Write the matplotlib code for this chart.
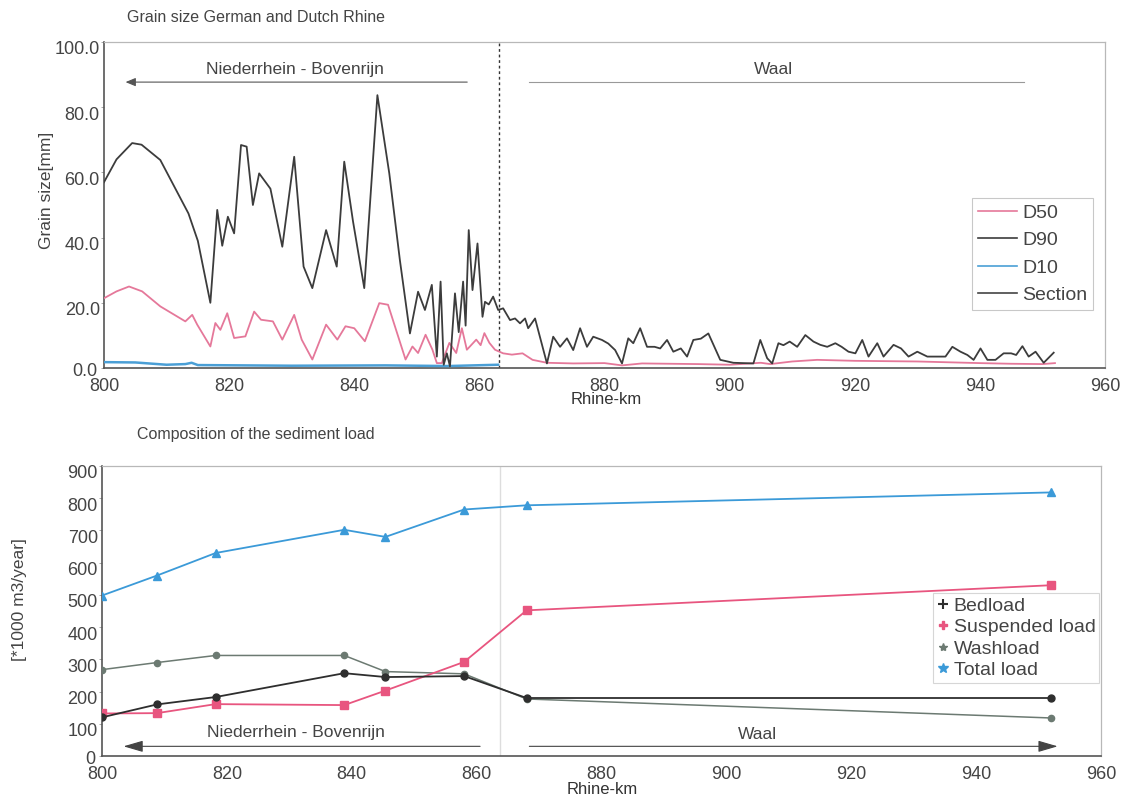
import matplotlib
matplotlib.use("Agg")
import matplotlib.pyplot as plt
from matplotlib.lines import Line2D
from matplotlib.transforms import ScaledTranslation

plt.rcParams['font.family'] = ['Liberation Sans', 'DejaVu Sans']

# ---------------- data: top chart (grain size) ----------------
d90_km = [800, 802, 804.5, 806, 809, 813.5, 815, 817, 818.1, 818.9, 819.8, 820.8, 821.9, 822.8,
          823.8, 824.8, 826.6, 828.5, 830.4, 831.9, 833.3, 835.5, 837.2, 838.4, 839.8, 841.6,
          843.7, 845.6, 847.3, 848.9, 850.2, 851.3, 852.4, 853.2, 853.8, 854.3, 854.8, 855.3,
          856.1, 856.7, 857.4, 857.8, 858.3, 858.9, 859.7, 860.5, 860.9, 861.5, 862.2, 863,
          863.8, 864.9, 865.7, 866.5, 867.3, 867.8, 868.9, 870.8, 871.8, 872.9, 874, 875,
          876.1, 877.2, 878.2, 879.6, 880.6, 881.7, 882.8, 883.8, 884.6, 885.7, 886.8, 888,
          888.9, 890, 891, 892.2, 893.2, 894.2, 895.4, 896.6, 898.5, 900.6, 903.8, 904.9,
          906, 906.8, 907.8, 908.6, 909.6, 910.8, 912.1, 913.4, 914.5, 915.6, 916.9, 917.9,
          919, 920.1, 921.2, 922.2, 923.6, 924.6, 926.2, 927.4, 928.6, 930, 931.6, 933,
          934.5, 935.6, 936.9, 938, 939, 940.1, 941.2, 942.5, 943.8, 945, 945.8, 946.8,
          947.8, 948.9, 950.2, 951.8]
d90_val = [57, 64, 69, 68.5, 63.8, 47.4, 39, 20, 48.5, 37.5, 46.4, 41.3, 68.4, 67.9,
           50, 59.7, 55, 37.2, 64.8, 31.1, 24.5, 42.3, 31.1, 63.3, 45, 24.5,
           83.7, 59.7, 33, 10.6, 23.4, 17.8, 25.5, 3.5, 26.5, 1, 4.5, 0.5,
           22.9, 11, 26.5, 13, 42.3, 23.9, 38.2, 15.7, 20.3, 19.5, 21.9, 17.8,
           18.3, 14.7, 15.2, 13.7, 15.2, 12.2, 15.2, 1.4, 9.6, 6.5, 9.1, 5.5,
           12.2, 6.5, 9.6, 8.6, 7.5, 5.5, 1.4, 9.1, 7.6, 12.2, 6.5, 6.5,
           6, 8.6, 5, 6, 3.5, 8.6, 9, 10.6, 2.5, 1.6, 1.4, 8.6,
           3, 1.4, 7.6, 7, 8.1, 6.5, 10.1, 8.1, 7.1, 6.5, 7.6, 6.5,
           5, 4.5, 8.6, 3.5, 7.6, 3.5, 7.1, 6, 3.5, 5, 3.5, 3.5,
           3.5, 6.5, 5, 4, 2.5, 6, 2.5, 2.5, 4.5, 4.5, 4, 6.7,
           3.5, 5, 1.6, 4.7]

d50_km = [800, 802, 804, 806.1, 809, 813, 814.1, 814.9, 817, 817.8, 818.6, 819.7, 820.8,
          822.6, 824, 825.1, 827, 828.5, 830.4, 831.6, 833.3, 835.5, 837.3, 838.6, 840,
          841.7, 844, 845.4, 848.2, 849.3, 850.2, 851.4, 852.5, 853.2, 854, 855.2, 856.3,
          857.2, 858, 859.5, 860.2, 860.8, 861.6, 862.5, 863.8, 865.2, 866.9, 868.5, 870.8,
          875, 880, 882.8, 886, 895, 900, 905, 906.5, 910, 914, 920, 930, 940, 945, 950, 952]
d50_val = [21.4, 23.5, 25, 23.5, 18.9, 14.3, 16.3, 13.3, 6.6, 13.8, 11.7, 16.8, 9.2,
           9.7, 17.3, 14.8, 14.3, 8.7, 16.3, 8.7, 2.6, 13.3, 8.7, 12.8, 12.2,
           8.2, 19.9, 19.4, 2.6, 6.6, 4.6, 10.2, 5.6, 1.5, 1.5, 7.7, 4.6,
           12.2, 5.6, 8.7, 7, 10.7, 7.7, 5.6, 4.5, 4.1, 4.5, 2.5, 1.6,
           1.4, 1.5, 0.8, 1.4, 1.2, 1.0, 1.6, 1.2, 2.0, 2.5, 2.2, 2.0, 1.5, 1.3, 1.2, 1.5]

d10_km = [800, 805, 810, 813, 814, 815, 830, 845, 855, 863]
d10_val = [1.8, 1.7, 1.0, 1.2, 1.6, 0.9, 0.7, 0.8, 0.6, 1.0]

section_km = 863.1

# ---------------- data: bottom chart (sediment load) ----------------
load_km = [800, 808.8, 818.2, 838.8, 845.4, 858, 868, 952]
bedload = [120, 160, 183, 257, 245, 248, 180, 180]
suspended = [132, 133, 161, 158, 203, 292, 452, 530]
washload = [268, 290, 312, 312, 262, 255, 177, 118]
total_load = [498, 560, 630, 702, 680, 765, 778, 818]
load_divider_km = 863.7

top_yticks = [0, 20, 40, 60, 80, 100]
bot_yticks = [0, 100, 200, 300, 400, 500, 600, 700, 800, 900]
xticks = [800, 820, 840, 860, 880, 900, 920, 940, 960]

C_D50 = '#e5789a'
C_D90 = '#3c3c3c'
C_D10 = '#4a9fd6'
C_BED = '#2e2e2e'
C_SUS = '#e8557f'
C_WASH = '#6c7a72'
C_TOT = '#3b9ad8'
TXT = '#444444'

fig = plt.figure(figsize=(11.3, 7.98), dpi=100)
ax1 = fig.add_axes([104/1130, 1 - 368/798, (1105-104)/1130, (368-42)/798])
ax2 = fig.add_axes([102/1130, 1 - 756/798, (1101-102)/1130, (756-466)/798])


def style_axes(ax, yticks, fmt):
    ax.set_xlim(800, 960)
    ax.set_xticks(xticks)
    ax.set_yticks(yticks)
    ax.set_yticklabels([fmt.format(v) for v in yticks])
    ax.tick_params(axis='x', length=0, pad=7, labelsize=13, labelcolor=TXT)
    ax.tick_params(axis='y', length=2, width=0.6, color='#999999', pad=1,
                   labelsize=13, labelcolor=TXT)
    for s in ['top', 'right']:
        ax.spines[s].set_color('#b8b8b8')
        ax.spines[s].set_linewidth(0.9)
    for s in ['left', 'bottom']:
        ax.spines[s].set_color('#555555')
        ax.spines[s].set_linewidth(1.2)
    for i, lab in enumerate(ax.get_yticklabels()):
        dy = -1 if i == 0 else -6
        lab.set_transform(lab.get_transform() +
                          ScaledTranslation(-2/100 if i == 0 else 0, dy/100,
                                            fig.dpi_scale_trans))


# ---------- top chart ----------
ax1.plot(d50_km, d50_val, color=C_D50, lw=1.3, label='D50', zorder=3)
ax1.plot(d90_km, d90_val, color=C_D90, lw=1.3, label='D90', zorder=4)
ax1.plot(d10_km, d10_val, color=C_D10, lw=1.8, label='D10', zorder=3)
ax1.axvline(section_km, color='#333333', lw=1.0, ls=(0, (2, 2)), zorder=2)
ax1.set_ylim(0, 100)
style_axes(ax1, top_yticks, '{:.1f}')

leg_handles = [Line2D([], [], color=C_D50, lw=1.2),
               Line2D([], [], color=C_D90, lw=1.2),
               Line2D([], [], color=C_D10, lw=1.2),
               Line2D([], [], color='#444444', lw=1.2)]
leg1 = ax1.legend(leg_handles, ['D50', 'D90', 'D10', 'Section'],
                  loc='upper left', bbox_to_anchor=(0.867, 0.52), fontsize=14,
                  frameon=True, fancybox=False, edgecolor='#bbbbbb',
                  handlelength=2.0, handletextpad=0.3, borderpad=0.3,
                  labelspacing=0.5, borderaxespad=0)
leg1.get_frame().set_linewidth(0.8)
for t in leg1.get_texts():
    t.set_color(TXT)

# region annotations (top)
ax1.annotate('', xy=(803.0, 87.7), xytext=(858.5, 87.7),
             arrowprops=dict(arrowstyle='-|>,head_length=0.6,head_width=0.25',
                             color='#555555', lw=0.8))
ax1.plot([868, 947], [87.7, 87.7], color='#999999', lw=0.8)
ax1.text(830.5, 91.5, 'Niederrhein - Bovenrijn', ha='center', va='center',
         fontsize=12.5, color=TXT)
ax1.text(907, 91.5, 'Waal', ha='center', va='center', fontsize=12.5, color=TXT)

fig.text(127/1130, 1 - 17/798, 'Grain size German and Dutch Rhine', ha='left',
         va='center', fontsize=11.5, color=TXT)
fig.text(47/1130, 1 - 190/798, 'Grain size[mm]', rotation=90, ha='center',
         va='center', fontsize=12.5, color=TXT)
fig.text(606/1130, 1 - 400/798, 'Rhine-km', ha='center', va='center',
         fontsize=12, color='#333333')

# ---------- bottom chart ----------
ax2.axvline(load_divider_km, color='#dddddd', lw=1.0, zorder=1)
ax2.plot(load_km, total_load, color=C_TOT, lw=1.3, marker='^', ms=6, zorder=4)
ax2.plot(load_km, suspended, color=C_SUS, lw=1.3, marker='s', ms=5.5, zorder=4)
ax2.plot(load_km, washload, color=C_WASH, lw=1.1, marker='o', ms=4.5, zorder=3)
ax2.plot(load_km, bedload, color=C_BED, lw=1.3, marker='o', ms=5, zorder=4)
ax2.set_ylim(0, 900)
style_axes(ax2, bot_yticks, '{:d}')

leg2_handles = [Line2D([], [], color=C_BED, lw=0, marker='+', ms=7, mew=1.5),
                Line2D([], [], color=C_SUS, lw=0, marker='P', ms=6),
                Line2D([], [], color=C_WASH, lw=0, marker='*', ms=6),
                Line2D([], [], color=C_TOT, lw=0, marker='*', ms=7)]
leg2 = ax2.legend(leg2_handles, ['Bedload', 'Suspended load', 'Washload', 'Total load'],
                  loc='upper left', bbox_to_anchor=(0.832, 0.562), fontsize=14,
                  frameon=True, fancybox=False, edgecolor='#cccccc',
                  handlelength=0.6, handletextpad=0.25, borderpad=0.2,
                  labelspacing=0.2, borderaxespad=0)
leg2.get_frame().set_linewidth(0.8)
for t in leg2.get_texts():
    t.set_color(TXT)

ax2.annotate('', xy=(803.0, 30), xytext=(861, 30),
             arrowprops=dict(arrowstyle='-|>,head_length=1.2,head_width=0.35',
                             color='#444444', lw=0.8))
ax2.annotate('', xy=(953.5, 30), xytext=(868, 30),
             arrowprops=dict(arrowstyle='-|>,head_length=1.2,head_width=0.35',
                             color='#444444', lw=0.8))
ax2.text(831, 72, 'Niederrhein - Bovenrijn', ha='center', va='center',
         fontsize=12.5, color=TXT)
ax2.text(905, 68, 'Waal', ha='center', va='center', fontsize=12.5, color=TXT)

fig.text(137/1130, 1 - 435/798, 'Composition of the sediment load', ha='left',
         va='center', fontsize=11.5, color=TXT)
fig.text(20/1130, 1 - 600/798, '[*1000 m3/year]', rotation=90, ha='center',
         va='center', fontsize=12.5, color=TXT)
fig.text(602/1130, 1 - 790/798, 'Rhine-km', ha='center', va='center',
         fontsize=12, color='#333333')

fig.savefig('out.png', dpi=100, facecolor='white')
